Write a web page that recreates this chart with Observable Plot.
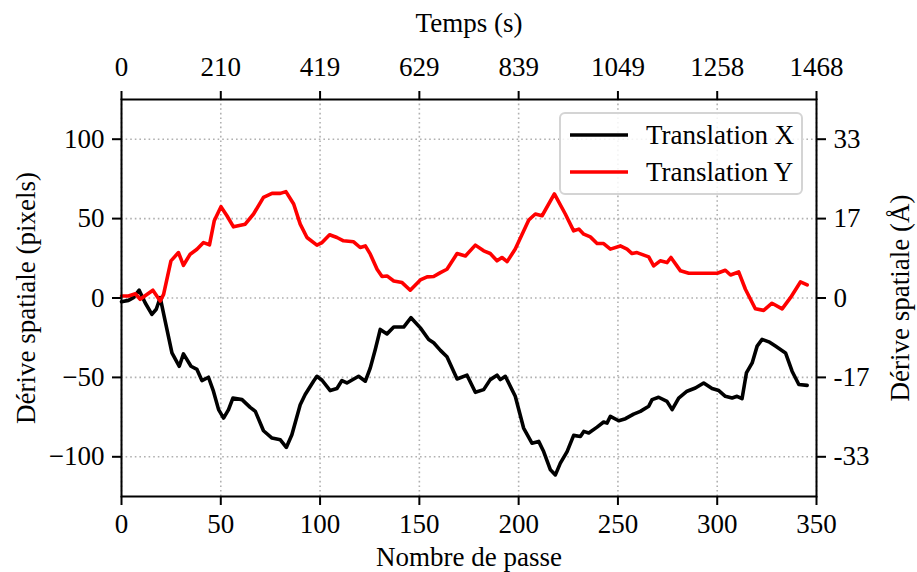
<!DOCTYPE html>
<html>
<head>
<meta charset="utf-8">
<script src="https://cdn.jsdelivr.net/npm/d3@7"></script>
<script src="https://cdn.jsdelivr.net/npm/@observablehq/plot@0.6"></script>
<style>
  html, body { margin: 0; padding: 0; background: white; }
  #wrap { position: relative; width: 917px; height: 572px; font-family: "Liberation Serif", serif; }
  #legend { position: absolute; left: 559px; top: 112px; width: 240px; height: 79px;
    border: 2px solid #d4d4d4; border-radius: 6px; background: rgba(255,255,255,0.85);
    font-family: "Liberation Serif", serif; font-size: 27px; color: #000; }
  .row { position: absolute; left: 0; height: 36px; display: flex; align-items: center; white-space: nowrap; }
  .row svg { margin-left: 8px; }
  .row span { margin-left: 17px; }
</style>
</head>
<body>
<div id="wrap"><div id="legend"></div></div>
<script>
// ---- data ----
const seriesNames = ["Translation X", "Translation Y"];
const seriesColors = ["black", "red"];

const passeX = [0,3.5,6,8.9,11.9,15.3,17.5,19.5,22,25.4,29.1,31.2,35,38,40.5,43.8,46.3,48.9,51.4,53.9,56.1,60.7,64.8,67.4,71.5,75.8,80,83,85.8,90,92.5,96.7,98.4,101,105.1,108.5,111,113.5,119.4,122.8,125.3,127.8,130.3,133.7,137.1,142.1,145.8,150.5,154.7,157.2,160.6,163.9,169,174,178.2,182.4,185.7,189.1,190.8,193.3,198.3,202.5,206.7,210.1,212.6,216,218.5,221,224.4,227.7,231.1,232.8,235.3,239.5,242.8,244.5,246.2,250.4,253.8,257.9,261.3,265.5,267.2,270.5,274.7,277.3,280.6,284.8,289,293.2,297.4,300.8,304.1,307.5,310,312.5,314.7,317.6,320.1,322.6,326,329.3,334.4,337.7,341.1,345.3];
const deriveX = [-2.3,-1.5,0.2,4.9,-3,-10.3,-7.1,0.2,-14.5,-34.6,-43,-35.2,-43,-45,-52,-49.9,-58.7,-70.3,-75.6,-70.3,-63,-64,-68.9,-71.4,-83.6,-88.2,-89.3,-94.1,-86.1,-67.2,-60.8,-52.4,-49.3,-51.8,-58.3,-57,-52,-53.5,-49.3,-52.4,-44,-32.4,-19.8,-22.6,-18.3,-18.3,-12.4,-18.8,-26.1,-28.2,-33,-37,-51,-48.6,-59.4,-57.7,-51.4,-48.6,-51.4,-49.3,-61.9,-81.9,-91.4,-90.3,-96.7,-108.2,-111.4,-104,-96.7,-86.5,-87.2,-84,-85,-81.3,-78.1,-78.8,-74.5,-77.3,-76,-73.1,-71.4,-68.2,-64,-62.5,-65.1,-70.3,-63,-58.7,-56.7,-53.5,-57,-58.3,-61.9,-63,-61.9,-63.4,-47.2,-40.9,-30.3,-26.1,-27.6,-30.3,-34.6,-46.1,-54.5,-55];

const passeY = [0,3.5,7,9.4,15.8,19.5,21.2,24.9,28.7,31.2,34.6,38,41.3,44.3,46.7,50.1,53.1,56.4,62.3,66.5,71.5,75.8,80,82.8,86.7,90,93.4,98.4,101,104.8,108.5,111.8,116.9,120.2,122.8,125.3,128.7,131.2,133.7,137.1,141.3,145.4,150.5,153.9,157.2,160.6,163.9,169,173.2,178.2,182.4,185.7,189.1,191.6,194.2,198.3,205.1,208.4,211.8,218,223.5,227.7,230.3,232.8,236.1,239.5,242.8,246.2,251.2,254.6,257.1,259.6,265.5,268,271.3,274.7,276.7,281.5,285.7,289,294.9,300,304.1,306.7,310.8,314.2,319.2,323.4,327.6,332.7,336.9,341.9,345.3];
const deriveY = [1.3,1.3,2.7,-0.8,4.9,-1.9,2.3,23.4,28.6,20.6,27.6,30.7,34.9,33.5,48.6,57.5,51.8,44.8,46.5,52.9,63.4,65.9,65.9,67,59.2,46.5,38.1,33.3,34.9,39.8,38.1,36,35.4,31.8,32.8,27.6,18.1,13.5,13.9,10.7,9.7,4.9,11.4,13.3,13.5,16,18.1,28,26.5,33.3,29.7,28,23.4,25.5,22.9,30.8,49.1,52.9,51.8,65.5,52.9,42.3,43.4,40.2,38.5,34.3,34.3,30.8,32.8,30.8,28,28.6,25.9,20.2,23.4,22.3,25.5,17.1,15.6,15.6,15.6,15.6,17.5,14.5,16.4,5.5,-6.8,-7.8,-3.3,-6.8,0.2,10.1,8.2];

const xTicks = [0, 50, 100, 150, 200, 250, 300, 350];
const tempsLabels = ["0", "210", "419", "629", "839", "1049", "1258", "1468"];
const yTicks = [-100, -50, 0, 50, 100];
const pixelLabels = ["\u2212100", "\u221250", "0", "50", "100"];
const angstromLabels = ["-33", "-17", "0", "17", "33"];

const dataX = passeX.map((p, i) => ({p, v: deriveX[i]}));
const dataY = passeY.map((p, i) => ({p, v: deriveY[i]}));
const tempsMap = new Map(xTicks.map((t, i) => [t, tempsLabels[i]]));
const pixMap = new Map(yTicks.map((t, i) => [t, pixelLabels[i]]));
const angMap = new Map(yTicks.map((t, i) => [t, angstromLabels[i]]));

const FS = 27;
const axisCommon = {tickSize: 9, tickPadding: 8, fontSize: FS, strokeWidth: 2, label: null};
const gridCommon = {stroke: "#b0b0b0", strokeOpacity: 1, strokeWidth: 1.6, strokeDasharray: "1.6,3"};

const chart = Plot.plot({
  width: 917,
  height: 572,
  marginLeft: 121,
  marginRight: 101,
  marginTop: 99,
  marginBottom: 76,
  style: {fontFamily: "Liberation Serif", fontSize: "27px", background: "white", color: "black", overflow: "visible"},
  x: {domain: [0, 350]},
  y: {domain: [-125, 125]},
  marks: [
    Plot.gridX({ticks: xTicks, ...gridCommon}),
    Plot.gridY({ticks: yTicks, ...gridCommon}),
    Plot.line(dataX, {x: "p", y: "v", stroke: seriesColors[0], strokeWidth: 3.6}),
    Plot.line(dataY, {x: "p", y: "v", stroke: seriesColors[1], strokeWidth: 3.6}),
    Plot.frame({stroke: "black", strokeWidth: 2}),
    Plot.axisX({anchor: "bottom", ticks: xTicks, tickFormat: d => String(d), ...axisCommon}),
    Plot.axisX({anchor: "top", ticks: xTicks, tickFormat: d => tempsMap.get(d), ...axisCommon, tickPadding: 15}),
    Plot.axisY({anchor: "left", ticks: yTicks, tickFormat: d => pixMap.get(d), ...axisCommon}),
    Plot.axisY({anchor: "right", ticks: yTicks, tickFormat: d => angMap.get(d), ...axisCommon}),
    Plot.text(["Nombre de passe"], {text: d => d, frameAnchor: "bottom", dy: 61, fontSize: FS, lineAnchor: "middle", textAnchor: "middle"}),
    Plot.text(["Temps (s)"], {text: d => d, frameAnchor: "top", dy: -76, fontSize: FS, lineAnchor: "middle", textAnchor: "middle"}),
    Plot.text(["Dérive spatiale (pixels)"], {text: d => d, frameAnchor: "left", dx: -95, rotate: -90, fontSize: FS, lineAnchor: "middle", textAnchor: "middle"}),
    Plot.text(["Dérive spatiale (Å)"], {text: d => d, frameAnchor: "right", dx: 84, rotate: -90, fontSize: FS, lineAnchor: "middle", textAnchor: "middle"})
  ]
});
document.getElementById("wrap").prepend(chart);

// legend
const legend = document.getElementById("legend");
seriesNames.forEach((name, i) => {
  const row = document.createElement("div");
  row.className = "row";
  row.style.top = (3 + i * 37) + "px";
  row.innerHTML = `<svg width="60" height="10"><line x1="1" x2="59" y1="5" y2="5" stroke="${seriesColors[i]}" stroke-width="3.6"/></svg><span>${name}</span>`;
  legend.appendChild(row);
});
</script>
</body>
</html>
